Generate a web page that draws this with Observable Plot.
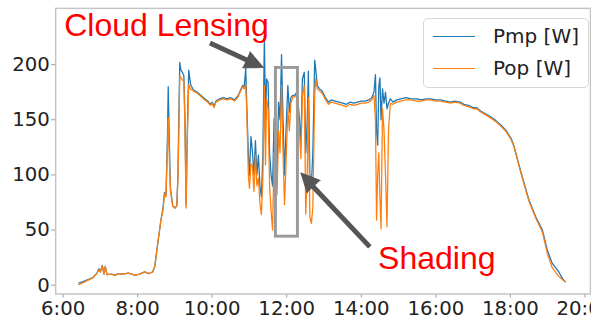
<!DOCTYPE html>
<html>
<head>
<meta charset="utf-8">
<script src="https://cdn.jsdelivr.net/npm/d3@7"></script>
<script src="https://cdn.jsdelivr.net/npm/@observablehq/plot@0.6"></script>
<style>
  html, body { margin: 0; padding: 0; background: #fff; overflow: hidden; }
  #wrap { position: relative; width: 591px; height: 327px; overflow: hidden; }
  #legend { position: absolute; left: 423px; top: 18px; width: 164px; height: 68px;
    border: 1px solid #d6d6d6; border-radius: 5px; background: rgba(255,255,255,0.85);
    font-family: "DejaVu Sans", sans-serif; font-size: 20px; color: #222; }
  .item { position: absolute; left: 9px; height: 24px; display: flex; align-items: center; }
  .swatch { width: 42px; height: 0; border-top: 1.5px solid; margin-right: 18px; }
  svg [aria-label="y-axis tick"] path, svg [aria-label="x-axis tick"] path { stroke: #999; }
</style>
</head>
<body>
<div id="wrap">
  <div id="legend">
    <div class="item" style="top:5px"><div class="swatch" style="border-color:#1f77b4"></div>Pmp [W]</div>
    <div class="item" style="top:37px"><div class="swatch" style="border-color:#ff7f0e"></div>Pop [W]</div>
  </div>
</div>
<script>
// time of day (decimal hours)
const times = [6.42,6.55,6.70,6.80,6.91,6.96,7.00,7.05,7.10,7.13,7.18,7.30,7.40,7.48,7.60,7.75,7.85,7.92,8.05,8.19,8.30,8.40,8.46,8.54,8.62,8.68,8.72,8.76,8.80,8.82,8.85,8.88,8.94,9.00,9.05,9.08,9.10,9.13,9.16,9.20,9.24,9.27,9.30,9.33,9.37,9.42,9.50,9.60,9.70,9.80,9.88,9.95,10.00,10.05,10.10,10.20,10.30,10.40,10.50,10.60,10.70,10.76,10.82,10.86,10.90,10.93,10.97,11.00,11.04,11.08,11.12,11.16,11.20,11.24,11.28,11.32,11.36,11.40,11.43,11.46,11.50,11.54,11.58,11.62,11.66,11.70,11.74,11.78,11.82,11.86,11.90,11.94,11.98,12.03,12.07,12.11,12.16,12.22,12.28,12.34,12.38,12.42,12.47,12.51,12.55,12.58,12.62,12.66,12.70,12.75,12.78,12.82,12.88,12.95,13.04,13.12,13.20,13.30,13.40,13.50,13.60,13.70,13.80,13.90,14.00,14.10,14.20,14.28,14.34,14.38,14.41,14.44,14.47,14.50,14.53,14.57,14.61,14.65,14.69,14.73,14.78,14.85,14.95,15.06,15.20,15.33,15.50,15.60,15.75,15.86,16.00,16.13,16.26,16.39,16.50,16.65,16.75,16.87,17.00,17.10,17.20,17.36,17.50,17.62,17.75,17.89,18.02,18.10,18.20,18.33,18.50,18.68,18.86,18.99,19.12,19.30,19.40,19.47];
const pmp = [2,3.5,5.5,7,11,15,12,18,10,17,9.5,10,9,10.5,10,11,10,9,10,12,10.5,12,17,38,58,70,84,82,135,180,130,88,72,70,72,100,142,202,195,193,190,150,73,135,195,182,177,175,172,169,167,164,166,162,167,169,170,169,170,168,172,177,181,180,197,160,120,100,135,121,100,131,100,118,90,80,120,225,150,187,184,120,100,90,151,130,100,166,150,209,151,100,140,181,157,170,172,172,176,151,130,187,193,120,150,194,100,90,120,204,195,181,178,176,170,166,168,167,166,165,164,166,165,166,167,167,168,170,175,191,140,127,180,188,150,178,165,175,160,165,169,166,168,169,170,169,169,168,169,169,168,168,167,166,167,166,164,163,161,161,158,155,152,149,145,140,133,126,113,97,77,62,50,32,20,12,6,3];
const pop = [0.5,2.5,5,6.5,11,14,12,17.5,10,17,9.5,10,9,10.5,10,11,10,9,10,12,10.5,12,17,38,58,68,83,80,125,152,115,86,72,70,72,95,128,190,188,186,185,140,70,130,182,178,176,174,171,168,166,163,165,161,166,168,169,168,169,167,171,176,180,178,182,155,100,88,110,108,85,118,90,97,75,64,97,181,109,169,160,90,67,50,120,110,82,140,120,181,120,73,109,160,140,165,170,171,173,140,115,172,181,64.5,100,170,62,56,70,172,187,178,176,174,168,164,166,165,164,163,162,164,163,164,165,165,166,168,172,150,59,100,120,80,51,160,140,100,53,140,165,164,166,167,168,168,167,167,168,168,167,167,166,165,166,165,163,162,160,160,157,154,151,148,144,139,132,125,112,96,76,61,48,29,16,8,5,3.5];
const series = [{name: "Pmp [W]", values: pmp, color: "#1f77b4"}, {name: "Pop [W]", values: pop, color: "#ff7f0e"}];

const xTicks = [6, 8, 10, 12, 14, 16, 18, 20];
const yTicks = [0, 50, 100, 150, 200];

// annotations (data coordinates)
const boxX = [11.71, 12.30];
const boxY = [44, 197];
const labelText = ["Cloud Lensing", "Shading"];
const labelX = [6.03, 14.45];
const labelY = [235.2, 23.6];
const arrowX1 = [9.94, 14.23], arrowY1 = [219.6, 34.8];
const arrowX2 = [11.0, 12.61], arrowY2 = [203.1, 92.9];
const headX = [11.37, 12.38], headY = [197.3, 101.8], headAngle = [114.8, -43];

const rows = (s) => times.map((t, i) => ({t, v: s.values[i]}));
const labels = labelText.map((text, i) => ({text, x: labelX[i], y: labelY[i]}));
const arrows = arrowX1.map((x1, i) => ({x1, y1: arrowY1[i], x2: arrowX2[i], y2: arrowY2[i], hx: headX[i], hy: headY[i], a: headAngle[i]}));

const chart = Plot.plot({
  width: 600, height: 327,
  marginLeft: 56, marginRight: 1, marginTop: 8, marginBottom: 29,
  style: {fontFamily: "DejaVu Sans, sans-serif", fontSize: "20px", color: "#222", background: "transparent", overflow: "visible"},
  x: {domain: [5.8, 20.15], ticks: xTicks, tickFormat: d => `${d}:00`, tickSize: 4, tickPadding: 3, label: null},
  y: {domain: [-8, 251], ticks: yTicks, tickSize: 4, tickPadding: 2, label: null},
  marks: [
    Plot.frame({stroke: "#c4c4c4", strokeWidth: 1.5}),
    ...series.map(s => Plot.line(rows(s), {x: "t", y: "v", stroke: s.color, strokeWidth: 1.3})),
    Plot.rect([{x1: boxX[0], x2: boxX[1], y1: boxY[0], y2: boxY[1]}], {x1: "x1", x2: "x2", y1: "y1", y2: "y2", fill: "none", stroke: "#9a9a9a", strokeWidth: 3}),
    Plot.link(arrows, {x1: "x1", y1: "y1", x2: "x2", y2: "y2", stroke: "#555", strokeWidth: 5}),
    Plot.vector(arrows, {x: "hx", y: "hy", rotate: "a", length: 19, r: 9, shape: "spike", anchor: "end", fill: "#555", stroke: "#555", strokeWidth: 1}),
    Plot.text(labels, {x: "x", y: "y", text: "text", textAnchor: "start", fill: "#ff0000", fontSize: 32.5, fontFamily: "Liberation Sans, Arial, sans-serif"})
  ]
});
document.getElementById("wrap").prepend(chart);
</script>
</body>
</html>
